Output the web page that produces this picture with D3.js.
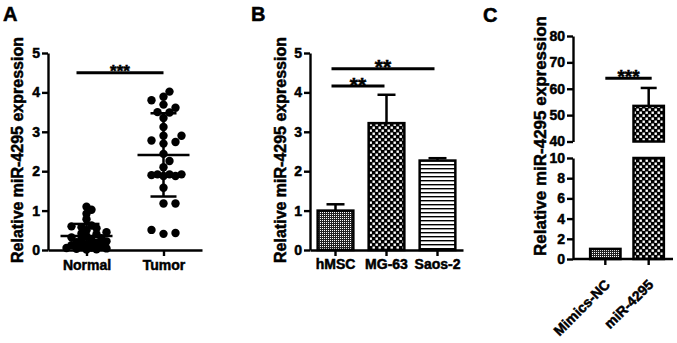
<!DOCTYPE html>
<html>
<head>
<meta charset="utf-8">
<script src="https://cdn.jsdelivr.net/npm/d3@7"></script>
<style>
  body { margin: 0; background: #fff; }
  svg { display: block; }
</style>
</head>
<body>
<svg id="chart" width="677" height="343"></svg>
<script>
'use strict';

// Panel A: individual samples
var groupsA = ['Normal', 'Tumor'];
var normalVals = [1.10, 1.02, 0.92, 0.78, 0.62, 0.60, 0.58, 0.55, 0.50, 0.45, 0.42, 0.40, 0.35, 0.32, 0.30,
                  0.28, 0.25, 0.22, 0.20, 0.18, 0.15, 0.12, 0.10, 0.08, 0.06, 0.05, 0.04, 0.03, 0.02, 0.01];
var tumorVals = [4.02, 3.89, 3.80, 3.69, 3.61, 3.50, 3.49, 3.35, 3.12, 2.90, 2.90, 2.78, 2.74, 2.70, 2.44,
                 2.26, 2.10, 1.92, 1.92, 1.90, 1.88, 1.88, 1.92, 1.58, 1.18, 1.18, 0.51, 0.43, 0.41];
var ticksA = [0, 1, 2, 3, 4, 5];

// Panel B: cell lines
var cellLines = ['hMSC', 'MG-63', 'Saos-2'];
var cellMeans = [1.00, 3.22, 2.27];
var cellErrs = [0.16, 0.72, 0.06];
var cellPatterns = ['fine', 'checker', 'hlines'];

// Panel C: mimics
var mimicsCats = ['Mimics-NC', 'miR-4295'];
var mimicsMeans = [1.0, 53.5];
var mimicsErrs = [0.1, 6.8];
var mimicsPatterns = ['fine', 'checker'];
var ticksCLow = [0, 2, 4, 6, 8, 10];
var ticksCHigh = [40, 50, 60, 70, 80];

var yTitle = 'Relative miR-4295 expression';
var FONT = '"Liberation Sans", Arial, sans-serif';

var svg = d3.select('#chart');
var defs = svg.append('defs');
var fmt = d3.format('d');

// fill patterns
var pFine = defs.append('pattern').attr('id', 'fine').attr('patternUnits', 'userSpaceOnUse')
    .attr('width', 2).attr('height', 2);
pFine.append('rect').attr('width', 2).attr('height', 2).attr('fill', '#222');
pFine.append('rect').attr('width', 1).attr('height', 1).attr('fill', '#fff');

var pChk = defs.append('pattern').attr('id', 'checker').attr('patternUnits', 'userSpaceOnUse')
    .attr('width', 6).attr('height', 6);
pChk.append('rect').attr('width', 6).attr('height', 6).attr('fill', '#000');
pChk.append('rect').attr('x', 0.5).attr('y', 0.5).attr('width', 2.4).attr('height', 2.4).attr('fill', '#fff');
pChk.append('rect').attr('x', 3.5).attr('y', 3.5).attr('width', 2.4).attr('height', 2.4).attr('fill', '#fff');

var pLines = defs.append('pattern').attr('id', 'hlines').attr('patternUnits', 'userSpaceOnUse')
    .attr('width', 4).attr('height', 4);
pLines.append('rect').attr('width', 4).attr('height', 4).attr('fill', '#fff');
pLines.append('rect').attr('width', 4).attr('height', 1.4).attr('fill', '#000');

// heavy bold text like the original figure
function Bold(sel, nSize)
{
  return sel.style('font-family', FONT).style('font-weight', 'bold').style('font-size', nSize + 'px')
    .style('fill', '#000').style('stroke', '#000').style('stroke-width', '0.5px');
}

function StyleAxis(g, nSize)
{
  g.selectAll('path, line').style('stroke', '#000').style('stroke-width', '2.4px');
  Bold(g.selectAll('text'), nSize);
  return g;
}

function PanelLetter(strText, x, y)
{
  Bold(svg.append('text').attr('x', x).attr('y', y), 20).text(strText);
}

function YTitle(cx, cy, nSize)
{
  Bold(svg.append('text'), nSize)
    .attr('transform', `translate(${cx},${cy}) rotate(-90)`)
    .attr('text-anchor', 'middle').attr('dy', '0.35em')
    .text(yTitle);
}

function SigBar(x1, x2, y, strStars, nSize)
{
  svg.append('line').attr('x1', x1).attr('x2', x2).attr('y1', y).attr('y2', y)
    .attr('stroke', '#000').attr('stroke-width', 3);
  Bold(svg.append('text'), nSize).attr('x', (x1 + x2) / 2).attr('y', y - 3.5 + nSize * 0.43)
    .attr('text-anchor', 'middle')
    .text(strStars);
}

function ErrUp(x, yTop, yBase, w)
{
  svg.append('line').attr('x1', x).attr('x2', x).attr('y1', yTop).attr('y2', yBase)
    .attr('stroke', '#000').attr('stroke-width', 2.5);
  svg.append('line').attr('x1', x - w).attr('x2', x + w).attr('y1', yTop).attr('y2', yTop)
    .attr('stroke', '#000').attr('stroke-width', 2.5);
}

// simple beeswarm: put each dot at the nearest free offset from the centre
function Dodge(aVals, yScale, step, nMin, nMax)
{
  var placed = [];
  aVals.slice().sort((a, b) => a - b).forEach(v => {
    var y = yScale(v);
    var best = null, bestD = -1;
    for (var k = 0; k * step <= nMax; k++)
    {
      var cands = k == 0 ? [0] : [k * step, -k * step];
      for (var c of cands)
      {
        var dMin = d3.min(placed, p => Math.hypot(p.dx - c, p.y - y));
        if (dMin === undefined) dMin = 1e9;
        if (dMin >= nMin) { best = c; bestD = 1e9; break; }
        if (dMin > bestD) { bestD = dMin; best = c; }
      }
      if (bestD == 1e9) break;
    }
    placed.push({ v: v, y: y, dx: best });
  });
  return placed;
}

// ---------- Panel A ----------
(function ()
{
  var y = d3.scaleLinear().domain([0, 5]).range([250, 53]);
  var x = d3.scalePoint().domain(groupsA).range([48, 202]).padding(0.5);

  StyleAxis(svg.append('g').attr('transform', 'translate(48,0)')
    .call(d3.axisLeft(y).tickValues(ticksA).tickFormat(fmt).tickSize(6).tickSizeOuter(0).tickPadding(2)), 14);
  StyleAxis(svg.append('g').attr('transform', 'translate(0,250)')
    .call(d3.axisBottom(x).tickSize(6).tickSizeOuter(0).tickPadding(4)), 14);

  var series = [normalVals, tumorVals];
  series.forEach((vals, i) => {
    var cx = x(groupsA[i]);
    var pts = i == 0 ? Dodge(vals, y, 5, 5.5, 24) : Dodge(vals, y, 6, 7.5, 20);
    svg.append('g').selectAll('circle').data(pts).join('circle')
      .attr('cx', d => cx + d.dx).attr('cy', d => d.y).attr('r', 4.2).attr('fill', '#000');

    var m = d3.mean(vals), s = d3.deviation(vals);
    var lo = Math.max(0, m - s);
    svg.append('line').attr('x1', cx).attr('x2', cx).attr('y1', y(m + s)).attr('y2', y(lo))
      .attr('stroke', '#000').attr('stroke-width', 2.5);
    svg.append('line').attr('x1', cx - 26).attr('x2', cx + 26).attr('y1', y(m)).attr('y2', y(m))
      .attr('stroke', '#000').attr('stroke-width', 2.5);
    [m + s, lo].forEach(v => {
      svg.append('line').attr('x1', cx - 13).attr('x2', cx + 13).attr('y1', y(v)).attr('y2', y(v))
        .attr('stroke', '#000').attr('stroke-width', 2.5);
    });
  });

  SigBar(x('Normal') - 10, x('Tumor'), y(4.5), '***', 17);
  YTitle(17, 150, 16);
  PanelLetter('A', 3, 21);
})();

// ---------- Panel B ----------
(function ()
{
  var y = d3.scaleLinear().domain([0, 5]).range([250, 53]);
  var x = d3.scaleBand().domain(cellLines).range([310, 463]).paddingInner(0.3).paddingOuter(0.15);

  cellLines.forEach((c, i) => {
    var cx = x(c) + x.bandwidth() / 2;
    ErrUp(cx, y(cellMeans[i] + cellErrs[i]), y(cellMeans[i]), 9);
  });

  svg.append('g').selectAll('rect').data(cellLines).join('rect')
    .attr('x', d => x(d)).attr('width', x.bandwidth())
    .attr('y', (d, i) => y(cellMeans[i])).attr('height', (d, i) => 250 - y(cellMeans[i]))
    .attr('fill', (d, i) => `url(#${cellPatterns[i]})`)
    .attr('stroke', '#000').attr('stroke-width', 2.5);

  StyleAxis(svg.append('g').attr('transform', 'translate(310,0)')
    .call(d3.axisLeft(y).tickValues(ticksA).tickFormat(fmt).tickSize(6).tickSizeOuter(0).tickPadding(2)), 14);
  StyleAxis(svg.append('g').attr('transform', 'translate(0,250)')
    .call(d3.axisBottom(x).tickSize(6).tickSizeOuter(0).tickPadding(3)), 14);

  var c0 = x(cellLines[0]) + x.bandwidth() / 2 - 4;
  SigBar(c0, x(cellLines[1]) + x.bandwidth() / 2 - 2, y(4.16), '**', 21);
  SigBar(c0, x(cellLines[2]) + x.bandwidth() / 2 - 3, y(4.6), '**', 21);

  YTitle(280, 150, 16);
  PanelLetter('B', 251, 21);
})();

// ---------- Panel C ----------
(function ()
{
  var yL = d3.scaleLinear().domain([0, 10]).range([259, 158]);
  var yH = d3.scaleLinear().domain([40, 80]).range([141.5, 36]);
  var x = d3.scaleBand().domain(mimicsCats).range([578, 676]).paddingInner(0.3).paddingOuter(0.28);
  var axX0 = 573, axX1 = 673;

  // error bars drawn on the scale that holds the bar top
  mimicsCats.forEach((c, i) => {
    var cx = x(c) + x.bandwidth() / 2;
    var m = mimicsMeans[i], e = mimicsErrs[i];
    if (m > 40) ErrUp(cx, yH(m + e), yH(m), 8);
  });

  var bars = svg.append('g');
  mimicsCats.forEach((c, i) => {
    var m = mimicsMeans[i];
    var fill = `url(#${mimicsPatterns[i]})`;
    if (m <= 10)
    {
      bars.append('rect').attr('x', x(c)).attr('width', x.bandwidth())
        .attr('y', yL(m)).attr('height', yL(0) - yL(m))
        .attr('fill', fill).attr('stroke', '#000').attr('stroke-width', 2.5);
    }
    else
    {
      bars.append('rect').attr('x', x(c)).attr('width', x.bandwidth())
        .attr('y', yL(10)).attr('height', yL(0) - yL(10))
        .attr('fill', fill).attr('stroke', '#000').attr('stroke-width', 2.5);
      bars.append('rect').attr('x', x(c)).attr('width', x.bandwidth())
        .attr('y', yH(m)).attr('height', yH(40) - yH(m))
        .attr('fill', fill).attr('stroke', '#000').attr('stroke-width', 2.5);
    }
  });

  StyleAxis(svg.append('g').attr('transform', `translate(${axX0},0)`)
    .call(d3.axisLeft(yL).tickValues(ticksCLow).tickFormat(fmt).tickSize(6).tickSizeOuter(0).tickPadding(2)), 14);
  StyleAxis(svg.append('g').attr('transform', `translate(${axX0},0)`)
    .call(d3.axisLeft(yH).tickValues(ticksCHigh).tickFormat(fmt).tickSize(6).tickSizeOuter(0).tickPadding(2)), 14);

  var gx = StyleAxis(svg.append('g').attr('transform', `translate(0,${yL(0)})`)
    .call(d3.axisBottom(x).tickSize(6).tickSizeOuter(0)), 14);
  gx.select('.domain').attr('d', `M${axX0},0H${axX1}`);
  gx.selectAll('.tick text')
    .attr('x', 0).attr('y', 0).attr('dy', '0.35em')
    .attr('text-anchor', 'end')
    .attr('transform', 'translate(2,23) rotate(-45)');

  SigBar(x(mimicsCats[0]) + x.bandwidth() / 2, x(mimicsCats[1]) + x.bandwidth() / 2 + 3, yH(64), '***', 19);

  YTitle(540, 136, 17);
  PanelLetter('C', 483, 22);
})();
</script>
</body>
</html>
